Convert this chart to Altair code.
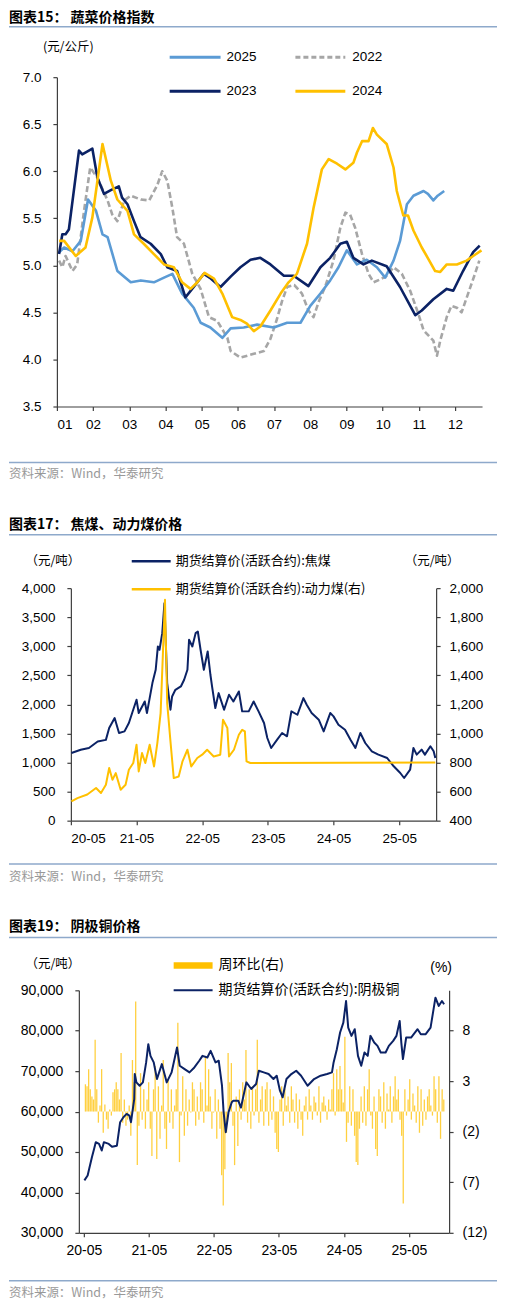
import altair as alt
import numpy as np
import pandas as pd

LAT = "Liberation Sans"
CJK = "Noto Sans CJK SC"
NAVY = "#0B2265"
GOLD = "#FFC000"
LBLUE = "#5B9BD5"
GRAY = "#A6A6A6"
RULE_C = "#8EA9CB"
AXIS_C = "#3F3F3F"
SRC_C = "#999999"

# ---------------- Panel 1 : vegetable price index (month index, 0 = Jan 1) -------------
MONTHS = ["01", "02", "03", "04", "05", "06", "07", "08", "09", "10", "11", "12"]
M25 = [0.06, 0.2, 0.43, 0.66, 0.86, 1.08, 1.26, 1.4, 1.67, 2.04, 2.32, 2.68, 2.96, 3.19, 3.46,
       3.78, 3.97, 4.24, 4.57, 4.80, 5.16, 5.53, 5.99, 6.36, 6.73, 7.00, 7.28, 7.55, 7.78, 8.01,
       8.29, 8.56, 8.84, 9.07, 9.30, 9.48, 9.67, 9.85, 10.13, 10.25, 10.40, 10.52, 10.70]
V25 = [5.14, 5.19, 5.15, 5.26, 5.70, 5.58, 5.33, 5.30, 4.94, 4.82, 4.84, 4.82, 4.87, 4.91, 4.70,
       4.55, 4.39, 4.34, 4.23, 4.33, 4.34, 4.37, 4.34, 4.39, 4.39, 4.57, 4.70, 4.84, 4.98, 5.16,
       5.01, 5.06, 4.98, 4.87, 5.05, 5.26, 5.65, 5.74, 5.79, 5.76, 5.69, 5.74, 5.79]
M22 = [0.06, 0.15, 0.24, 0.43, 0.56, 0.75, 0.92, 1.12, 1.40, 1.53, 1.67, 1.86, 2.04, 2.32, 2.55,
       2.77, 2.91, 3.05, 3.19, 3.32, 3.51, 3.74, 3.97, 4.20, 4.43, 4.71, 4.80, 5.07, 5.44, 5.72,
       5.90, 6.08, 6.22, 6.36, 6.45, 6.56, 6.77, 6.95, 7.09, 7.23, 7.41, 7.64, 7.83, 7.97, 8.10,
       8.24, 8.43, 8.61, 8.75, 8.93, 9.11, 9.30, 9.53, 9.76, 9.99, 10.13, 10.40, 10.50, 10.59,
       10.77, 10.90, 11.05, 11.18, 11.36, 11.55, 11.67]
V22 = [5.05, 4.98, 5.10, 4.94, 5.01, 5.58, 6.04, 5.93, 5.69, 5.54, 5.47, 5.69, 5.74, 5.70, 5.69,
       5.85, 6.00, 5.90, 5.61, 5.30, 5.23, 4.91, 4.75, 4.45, 4.41, 4.23, 4.09, 4.02, 4.06, 4.09,
       4.22, 4.43, 4.62, 4.77, 4.78, 4.79, 4.70, 4.52, 4.45, 4.61, 4.77, 5.05, 5.40, 5.56, 5.54,
       5.40, 5.12, 4.91, 4.82, 4.85, 4.89, 4.98, 4.91, 4.73, 4.48, 4.31, 4.20, 4.04, 4.20,
       4.45, 4.57, 4.55, 4.50, 4.70, 4.91, 5.05]
M23 = [0.06, 0.15, 0.24, 0.33, 0.61, 0.70, 0.98, 1.12, 1.30, 1.49, 1.71, 1.80, 1.95, 2.13, 2.31,
       2.59, 2.87, 3.05, 3.32, 3.55, 3.78, 4.06, 4.25, 4.52, 4.80, 5.07, 5.35, 5.62, 5.90, 6.27,
       6.54, 6.95, 7.28, 7.55, 7.83, 8.01, 8.19, 8.47, 8.70, 9.11, 9.48, 9.90, 10.08, 10.40,
       10.77, 10.95, 11.22, 11.50, 11.68]
V23 = [5.12, 5.33, 5.33, 5.38, 6.22, 6.18, 6.24, 5.93, 5.76, 5.80, 5.84, 5.72, 5.65, 5.47, 5.30,
       5.23, 5.12, 4.98, 4.94, 4.66, 4.77, 4.91, 4.86, 4.77, 4.88, 4.98, 5.06, 5.08, 5.01, 4.89,
       4.89, 4.78, 4.98, 5.08, 5.23, 5.25, 5.08, 5.01, 5.05, 4.99, 4.77, 4.47, 4.52, 4.64,
       4.75, 4.73, 4.94, 5.14, 5.21]
M24 = [0.06, 0.2, 0.52, 0.79, 0.98, 1.26, 1.49, 1.67, 1.95, 2.13, 2.40, 2.68, 2.96, 3.23, 3.46,
       3.69, 3.88, 4.08, 4.34, 4.57, 4.84, 5.07, 5.25, 5.44, 5.62, 5.90, 6.18, 6.40, 6.63, 6.91,
       7.09, 7.32, 7.51, 7.74, 7.97, 8.19, 8.29, 8.43, 8.61, 8.73, 8.84, 9.11, 9.30, 9.39, 9.57,
       9.70, 9.85, 10.08, 10.26, 10.45, 10.59, 10.77, 11.05, 11.32, 11.50, 11.73]
V24 = [5.26, 5.26, 5.10, 5.19, 5.51, 6.29, 5.90, 5.70, 5.58, 5.33, 5.23, 5.12, 5.01, 4.98, 4.82,
       4.75, 4.82, 4.92, 4.86, 4.70, 4.45, 4.42, 4.38, 4.30, 4.35, 4.52, 4.70, 4.82, 4.91, 5.23,
       5.61, 6.02, 6.13, 6.08, 6.02, 6.09, 6.20, 6.32, 6.32, 6.46, 6.39, 6.29, 6.04, 5.79, 5.53,
       5.53, 5.37, 5.19, 5.07, 4.94, 4.93, 5.01, 5.01, 5.05, 5.10, 5.16]
Y1_TICKS = [3.5, 4.0, 4.5, 5.0, 5.5, 6.0, 6.5, 7.0]

# ---------------- Panel 2 : coal (months since 2020-05) ----------------
YEAR_LABELS = ["20-05", "21-05", "22-05", "23-05", "24-05", "25-05"]
T_COKE = [0.1, 1.8, 3.3, 4.9, 6.4, 7.0, 8.0, 8.8, 9.8, 10.6, 11.2, 12.0, 12.4, 13.5, 13.9, 14.9,
          15.5, 15.9, 16.2, 16.7, 17.1, 17.6, 18.2, 18.5, 19.1, 20.1, 20.7, 21.3, 21.6, 22.2, 22.8,
          23.2, 23.7, 24.3, 25.0, 25.5, 25.8, 26.4, 27.0, 28.0, 28.9, 29.7, 30.7, 31.3, 32.5, 33.4,
          34.3, 35.3, 35.9, 36.6, 37.7, 38.6, 39.5, 40.3, 41.4, 42.5, 43.1, 44.0, 45.3, 46.2, 47.4,
          48.0, 48.9, 50.1, 51.1, 52.0, 52.9, 53.8, 55.0, 56.2, 57.8, 59.0, 60.2, 60.9, 62.0, 62.6,
          63.2, 64.1, 64.7, 65.7, 66.3, 66.6]
V_COKE = [1164, 1220, 1250, 1363, 1390, 1593, 1765, 1508, 1536, 1680, 1851, 2080, 1851, 2051, 1851,
          2367, 2596, 2997, 2940, 3226, 3742, 2367, 1908, 2137, 2251, 2309, 2424, 2596, 3111, 2997,
          3226, 3254, 2940, 2596, 2911, 2510, 2309, 1937, 2194, 1908, 2166, 2051, 2223, 1880, 1880,
          2051, 1880, 1680, 1422, 1250, 1393, 1508, 1451, 1880, 1822, 2108, 1994, 1851, 1737, 1536,
          1851, 1794, 1651, 1565, 1393, 1250, 1508, 1336, 1193, 1136, 1078, 935, 820, 734, 878,
          1250, 1136, 1222, 1136, 1279, 1193, 1078]
T_THERM = [0.1, 1.2, 3.0, 4.6, 5.5, 6.4, 7.0, 7.6, 8.2, 9.1, 10.0, 10.6, 11.4, 12.0, 12.4, 13.0,
           13.6, 14.4, 15.2, 15.8, 16.4, 17.2, 17.6, 18.2, 18.5, 18.8, 19.7, 20.4, 21.3, 22.0, 23.1,
           24.0, 24.9, 26.1, 27.3, 27.8, 28.6, 28.9, 29.8, 30.7, 31.3, 31.8, 32.1, 32.8, 66.6]
V_THERM = [533, 555, 580, 625, 590, 647, 762, 681, 727, 613, 647, 750, 797, 922, 739, 865, 797, 922,
           773, 934, 1140, 1920, 1209, 945, 819, 693, 704, 808, 888, 773, 831, 854, 888, 842, 854,
           1094, 1037, 842, 888, 991, 1025, 1014, 808, 797, 800]

# ---------------- Panel 3 : copper ----------------
T_CU = [0.1, 0.7, 1.0, 1.5, 1.9, 2.2, 2.8, 3.3, 3.7, 4.6, 5.2, 6.1, 6.7, 7.3, 7.9, 8.4, 8.7, 9.3,
        9.4, 9.7, 10.3, 10.9, 11.5, 11.9, 12.3, 12.9, 13.5, 14.4, 15.3, 16.2, 17.2, 17.7, 18.6,
        19.5, 20.4, 21.3, 21.9, 22.8, 23.4, 24.3, 24.9, 25.5, 25.8, 26.2, 26.7, 27.3, 27.6, 28.5,
        29.0, 30.0, 30.9, 31.8, 32.3, 33.2, 34.1, 35.0, 35.6, 36.2, 36.7, 37.4, 38.3, 39.2, 40.1,
        41.3, 42.5, 43.7, 44.9, 45.8, 46.1, 46.7, 47.3, 47.9, 48.4, 48.8, 49.4, 50.0, 50.6, 51.2,
        51.8, 52.4, 52.9, 53.6, 54.2, 54.8, 55.7, 56.3, 57.1, 57.7, 58.3, 58.6, 58.9, 59.5, 60.4,
        61.6, 62.2, 63.1, 64.0, 64.6, 64.9, 65.5, 66.1, 66.5]
V_CU = [42970, 44200, 45900, 48740, 50780, 52430, 52000, 50370, 52430, 52000, 51300, 51560, 57370,
        58600, 59420, 59000, 57370, 63100, 69280, 67220, 66400, 67220, 72160, 76670, 73790, 72160,
        68050, 71750, 67220, 69690, 75850, 71340, 70510, 69690, 70920, 72570, 73790, 73380, 75030,
        72160, 72570, 66400, 59830, 54900, 59830, 62300, 62700, 62700, 61000, 67220, 65580, 66810,
        70100, 69690, 69280, 68050, 68870, 65170, 63530, 68050, 69280, 70100, 68870, 66400, 68050,
        68870, 69280, 69690, 72160, 75440, 79550, 82010, 87350, 80780, 78730, 80370, 73790, 71340,
        74620, 73790, 78730, 77080, 76260, 74620, 74620, 76260, 77490, 78730, 82420, 77080, 72980,
        78320, 78320, 80370, 79140, 79140, 80780, 85720, 88180, 86130, 87350, 86540]
WOW = [2.7, 2.5, 4.2, 2.2, 1.5, 1.2, 7.1, 2.2, -1.1, 0.6,
       4.2, -2.1, 0.7, -0.8, -1.7, 0.2, -0.4, 1.9, 2.2, 2.9,
       2.2, 1.2, 5.8, -1.1, 1.2, -1.4, -0.8, 0.6, -2.4, 5.1,
       2.9, 10.9, -5.3, -1.4, 3.8, -0.8, 2.2, -1.7, 1.2, 2.9,
       -1.7, -4.4, 2.2, 4.5, -4.7, 2.5, -2.7, 0.6, 5.1, -1.7,
       -3.7, 3.2, -1.1, 2.2, -1.7, 0.6, 2.2, 8.8, -5.0, -0.4,
       3.5, -2.4, 2.2, -1.4, 1.2, -0.1, 2.9, 2.2, -1.4, 1.5,
       -0.8, 2.9, 2.2, -1.1, 5.5, 0.6, 4.2, 1.5, -1.7, -0.1,
       2.2, -2.7, 1.2, -1.7, -6.3, -9.3, -5.7, -2.1, 5.8, 2.9,
       4.8, -1.4, -5.3, 1.5, -3.4, 2.2, -0.8, 2.9, 1.2, 6.1,
       -1.1, 2.2, -1.7, 2.5, -0.4, 2.2, 7.1, -1.1, 1.2, 2.5,
       -1.4, 2.2,
       2.9, -1.4, 2.2, -0.8, 1.5, -2.1, -3.7, -4.0, 1.2, 2.5,
       -1.4, 2.2, 0.6, 1.5, -1.1, 2.5, 1.2, -1.1, 1.8, -1.7,
       1.2, -0.8, -2.4, 0.6, 1.5, -0.8, 2.2, 0.6, -0.8, 1.5,
       0.9, -0.4, 2.5, -1.1, 0.9, 1.5, 0.6, -0.8, 1.2, 0.2,
       2.2, 3.8, -0.4, 4.2, 2.2, 4.5, 2.2, 0.9, 7.4, -3.0,
       -1.1, 2.5, -1.4, 2.2, -2.4, -5.0, -5.3, -1.7, 1.5, -1.1,
       2.5, -1.4, 2.2, 4.2, -0.4, -1.7, 1.5, -3.7, -4.4, 2.2,
       1.5, -1.1, 2.9, -1.7, 1.8, 0.2, 2.5, -1.1, 1.5, 3.5,
       1.2, 2.2, -0.8, -2.4, -9.1, 2.2, -0.4, 1.2, 3.2, -0.8,
       1.8, 0.6, -1.1, 2.5, -2.1, 2.2, -1.4, 1.2, -0.8, 1.5,
       2.2, 0.6, -0.4, 3.5, 2.2, -1.1, 3.5, -2.7, 2.2, 1.2]
WOW_T = np.linspace(0.29, 66.44, len(WOW))  # weekly sampling positions (months since 2020-05)

ONE = pd.DataFrame({"k": [0]})


def idx_expr(labels, inner):
    return "[" + ",".join("'%s'" % s for s in labels) + "][" + inner + "]"


# ---------- helpers for decorations (page coords -> view coords) ----------
def txt(s, xp, yp, org, size=13, font=CJK, weight="normal", color="#000000", align="left"):
    return alt.Chart(pd.DataFrame({"s": [s]})).mark_text(
        align=align, baseline="middle", font=font, fontSize=size, fontWeight=weight, color=color
    ).encode(text="s:N", x=alt.value(xp - org[0]), y=alt.value(yp - org[1]))


def hline(x1, x2, yp, org, color=RULE_C, width=1.5, dash=None):
    kw = dict(color=color, strokeWidth=width)
    if dash:
        kw["strokeDash"] = dash
    return alt.Chart(ONE).mark_rule(**kw).encode(
        x=alt.value(x1 - org[0]), x2=alt.value(x2 - org[0]), y=alt.value(yp - org[1]))


def box(x1, x2, y1, y2, org, color):
    return alt.Chart(ONE).mark_rect(color=color).encode(
        x=alt.value(x1 - org[0]), x2=alt.value(x2 - org[0]),
        y=alt.value(y1 - org[1]), y2=alt.value(y2 - org[1]))


def spacer(w, h):
    return alt.Chart(ONE).mark_rect(opacity=0).encode(
        x=alt.value(0), x2=alt.value(w), y=alt.value(0), y2=alt.value(h)
    ).properties(width=w, height=h)


AX = dict(grid=False, title=None, tickSize=4, domainColor=AXIS_C, tickColor=AXIS_C,
          labelColor="#000000", labelFont=LAT, domainWidth=1.2, tickWidth=1.2)

SRC = "资料来源：Wind，华泰研究"
VX = 56  # page x of every view's left edge

# ======================= Panel 1 =======================
O1 = (VX, 76)
W1, H1 = 426, 330
x1 = alt.X("x:Q", scale=alt.Scale(domain=[0, 11.745], nice=False, zero=False),
           axis=alt.Axis(values=list(range(12)), labelExpr=idx_expr(MONTHS, "round(datum.value)"),
                         labelFontSize=13.5, labelPadding=7, **AX))
y1 = alt.Y("y:Q", scale=alt.Scale(domain=[3.5, 7.0], nice=False, zero=False),
           axis=alt.Axis(values=Y1_TICKS, format=".1f", labelFontSize=13.5, labelPadding=12, **AX))


def vline(ms, vs, color, dash=None, width=2.6):
    kw = dict(color=color, strokeWidth=width, strokeJoin="round")
    if dash:
        kw["strokeDash"] = dash
    return alt.Chart(pd.DataFrame({"x": ms, "y": vs})).mark_line(**kw).encode(x=x1, y=y1)


p1 = alt.layer(
    vline(M22, V22, GRAY, dash=[6, 3]),
    vline(M25, V25, LBLUE),
    vline(M23, V23, NAVY),
    vline(M24, V24, GOLD),
    txt("图表15： 蔬菜价格指数", 8, 17, O1, size=14, weight="bold"),
    hline(8, 497, 25.5, O1),
    txt("(元/公斤)", 42, 46, O1, size=12.5),
    hline(169, 220, 56, O1, color=LBLUE, width=3),
    txt("2025", 226, 56, O1, size=13.5, font=LAT),
    hline(295, 345, 56, O1, color=GRAY, width=3, dash=[5, 3]),
    txt("2022", 352, 56, O1, size=13.5, font=LAT),
    hline(169, 220, 90, O1, color=NAVY, width=3),
    txt("2023", 226, 90, O1, size=13.5, font=LAT),
    hline(295, 345, 90, O1, color=GOLD, width=3),
    txt("2024", 352, 90, O1, size=13.5, font=LAT),
    hline(8, 497, 462, O1),
    txt(SRC, 8, 474, O1, size=12.5, color=SRC_C),
).properties(width=W1, height=H1)

# ======================= Panel 2 =======================
L2, R2 = 70, 436          # page x of plot left / right
O2 = (VX, 588)
W2, H2 = R2 - VX, 233
x2 = alt.X("x:Q", scale=alt.Scale(domain=[0, 66.75], nice=False, zero=False, range=[L2 - VX, W2]),
           axis=alt.Axis(values=[0, 12, 24, 36, 48, 60],
                         labelExpr=idx_expr(YEAR_LABELS, "round(datum.value / 12)"),
                         labelFontSize=13.5, labelPadding=7, **AX))
coke = alt.Chart(pd.DataFrame({"x": T_COKE, "y": V_COKE})).mark_line(
    color=NAVY, strokeWidth=2, strokeJoin="round").encode(
    x=x2,
    y=alt.Y("y:Q", scale=alt.Scale(domain=[0, 4000], nice=False),
            axis=alt.Axis(values=list(range(0, 4001, 500)), format=",.0f", labelFontSize=13.5,
                          labelPadding=12, offset=-(L2 - VX), **AX)))
therm = alt.Chart(pd.DataFrame({"x": T_THERM, "y": V_THERM})).mark_line(
    color=GOLD, strokeWidth=2, strokeJoin="round").encode(
    x=x2,
    y=alt.Y("y:Q", scale=alt.Scale(domain=[400, 2000], nice=False, zero=False),
            axis=alt.Axis(orient="right", values=list(range(400, 2001, 200)), format=",.0f",
                          labelFontSize=13.5, labelPadding=9, **AX)))
p2 = alt.layer(
    coke, therm,
    txt("图表17： 焦煤、动力煤价格", 8, 525, O2, size=14, weight="bold"),
    hline(8, 497, 534.5, O2),
    txt("（元/吨）", 52, 561, O2, size=12.5, align="center"),
    txt("（元/吨）", 432, 561, O2, size=12.5, align="center"),
    hline(131, 170, 561, O2, color=NAVY, width=2.5),
    txt("期货结算价(活跃合约):焦煤", 175, 561, O2, size=13),
    hline(131, 170, 589, O2, color=GOLD, width=2.5),
    txt("期货结算价(活跃合约):动力煤(右)", 175, 589, O2, size=13),
    hline(8, 497, 864.5, O2),
    txt(SRC, 8, 877, O2, size=12.5, color=SRC_C),
).resolve_scale(y="independent").properties(width=W2, height=H2)

# ======================= Panel 3 =======================
L3, R3 = 78, 449
O3 = (VX, 991)
W3, H3 = R3 - VX, 243
x3 = alt.X("x:Q", scale=alt.Scale(domain=[0, 66.5], nice=False, zero=False, range=[L3 - VX, W3]),
           axis=alt.Axis(values=[0, 12, 24, 36, 48, 60],
                         labelExpr=idx_expr(YEAR_LABELS, "round(datum.value / 12)"),
                         labelFontSize=14, labelPadding=7, **AX))
bars = alt.Chart(pd.DataFrame({"x": WOW_T, "y": WOW})).mark_bar(
    color=GOLD, opacity=0.75, size=1.3, orient="vertical").encode(
    x=x3,
    y=alt.Y("y:Q", scale=alt.Scale(domain=[-12, 12], nice=False), stack=None,
            axis=alt.Axis(orient="right", values=[-12, -7, -2, 3, 8],
                          labelExpr="datum.value < 0 ? '(' + (-datum.value) + ')' : '' + datum.value",
                          labelFontSize=14, labelPadding=9, **AX)))
cu = alt.Chart(pd.DataFrame({"x": T_CU, "y": V_CU})).mark_line(
    color=NAVY, strokeWidth=2, strokeJoin="round").encode(
    x=x3,
    y=alt.Y("y:Q", scale=alt.Scale(domain=[30000, 90000], nice=False, zero=False),
            axis=alt.Axis(values=list(range(30000, 90001, 10000)), format=",.0f", labelFontSize=14,
                          labelPadding=12, offset=-(L3 - VX), **AX)))
p3 = alt.layer(
    bars, cu,
    txt("图表19： 阴极铜价格", 8, 927.5, O3, size=14, weight="bold"),
    hline(8, 497, 938, O3),
    txt("（元/吨）", 52, 965, O3, size=12.5, align="center"),
    txt("(%)", 441, 969, O3, size=14, font=LAT, align="center"),
    box(173, 212, 963, 969.5, O3, GOLD),
    txt("周环比(右)", 218, 966, O3, size=14),
    hline(173, 212, 991, O3, color=NAVY, width=2),
    txt("期货结算价(活跃合约):阴极铜", 218, 991, O3, size=14),
    hline(8, 497, 1282, O3),
    txt(SRC, 8, 1294, O3, size=12.5, color=SRC_C),
).resolve_scale(y="independent").properties(width=W3, height=H3)

chart = alt.vconcat(
    spacer(1, O1[1] - 8),
    p1,
    spacer(1, O2[1] - (O1[1] + H1)),
    p2,
    spacer(1, O3[1] - (O2[1] + H2)),
    p3,
    spacing=0, bounds="flush",
).properties(padding=0, background="white").configure_view(stroke=None)

chart.save("out.html", embed_options={"renderer": "svg", "actions": False})
